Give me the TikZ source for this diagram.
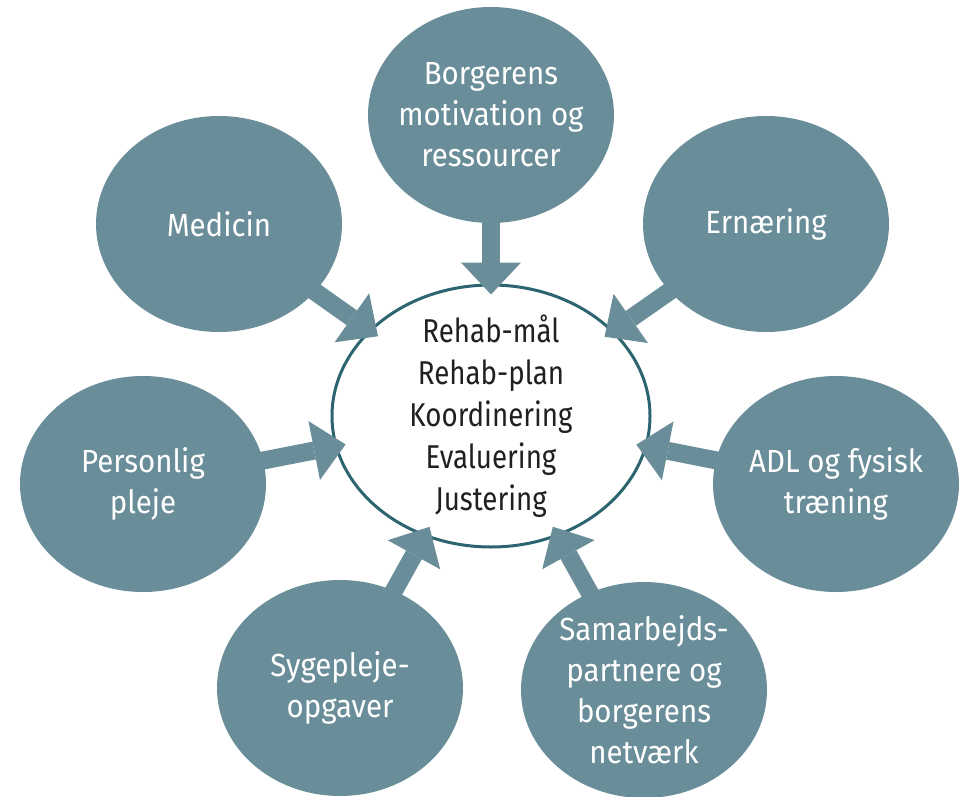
\documentclass[tikz,border=0pt]{standalone}
\usepackage{fontspec}
\setmainfont{Fira Sans}[FakeStretch=0.84]
\newfontfamily\topicfont{Fira Sans}[FakeStretch=0.92]
\usetikzlibrary{shapes.geometric,arrows.meta}
\definecolor{petrol}{HTML}{6A8E99}
\definecolor{petroldark}{HTML}{2C6570}
\definecolor{inktext}{HTML}{231F20}
\begin{document}
\begin{tikzpicture}[x=1pt,y=-1pt,
  % negative inner sep keeps the ellipse sizes fixed by the minimum size
  topic/.style={ellipse, fill=petrol, draw=none, minimum width=246pt,
    minimum height=216pt, inner sep=-25pt, text=white, align=center,
    font=\topicfont\fontsize{32}{41}\selectfont},
  hub/.style={ellipse, fill=white, draw=petroldark, line width=3pt,
    minimum width=318pt, minimum height=262pt, inner xsep=0pt,
    inner ysep=-45pt, text=inktext, align=center,
    font=\fontsize{33}{42}\selectfont},
  feed/.style={draw=petrol, fill=petrol, line width=18pt,
    -{Triangle[width=60pt,length=32pt,line width=0pt]},
    shorten >=-11pt, shorten <=-6pt}]
\useasboundingbox (0,0) rectangle (966,797);

% outer topics
\node[topic] (mot) at (491,115) {Borgerens\\motivation og\\ressourcer};
\node[topic] (med) at (219,224) {Medicin};
\node[topic] (ern) at (766,224) {Ernæring};
\node[topic] (per) at (143,484) {Personlig\\pleje};
\node[topic] (adl) at (836,484) {ADL og fysisk\\træning};
\node[topic] (syg) at (340,688) {Sygepleje-\\opgaver};
\node[topic] (sam) at (644,690) {Samarbejds-\\partnere og\\borgerens\\netværk};

% central ellipse
\node[hub] (hub) at (491,416) {Rehab-mål\\Rehab-plan\\Koordinering\\Evaluering\\Justering};

% arrows into the centre
\foreach \src in {mot,med,ern,per,adl,syg,sam}
  \draw[feed] (\src) -- (hub);
\end{tikzpicture}
\end{document}
